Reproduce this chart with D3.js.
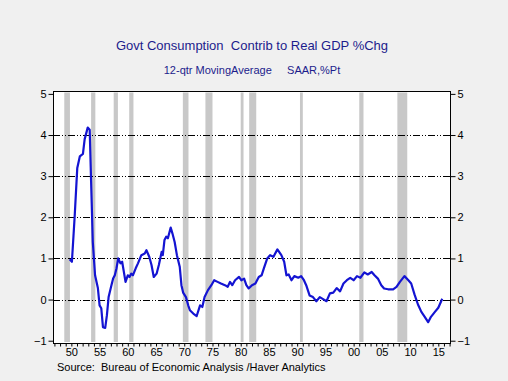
<!DOCTYPE html>
<html>
<head>
<meta charset="utf-8">
<script src="https://cdn.jsdelivr.net/npm/d3@7"></script>
<style>
  body { margin: 0; background: #f0f0f0; }
  svg { display: block; font-family: Arial, "Liberation Sans", sans-serif; }
</style>
</head>
<body>
<svg id="chart"></svg>
<script>
// 12-qtr moving average
const years = [1949.7, 1950.1, 1950.6, 1951.05, 1951.5, 1952.05, 1952.36, 1952.9, 1953.25, 1953.5,
  1953.8, 1954.2, 1954.7, 1955.0, 1955.3, 1955.6, 1956.0, 1956.3, 1956.6, 1957.1,
  1957.4, 1957.7, 1958.0, 1958.3, 1958.7, 1959.0, 1959.6, 1960.0, 1960.3, 1960.6,
  1960.9, 1961.4, 1961.8, 1962.4, 1963.0, 1963.3, 1963.8, 1964.2, 1964.6, 1965.1,
  1965.5, 1966.0, 1966.2, 1966.5, 1966.8, 1967.1, 1967.6, 1967.9, 1968.3, 1968.7,
  1969.2, 1969.5, 1969.8, 1970.3, 1970.7, 1971.0, 1971.6, 1972.2, 1972.8, 1973.2,
  1973.6, 1974.2, 1974.8, 1975.3, 1975.9, 1976.5, 1977.2, 1977.7, 1978.1, 1978.5,
  1979.0, 1979.7, 1980.1, 1980.6, 1981.0, 1981.4, 1982.0, 1982.6, 1983.2, 1983.7,
  1984.1, 1984.7, 1985.2, 1985.8, 1986.5, 1987.2, 1987.7, 1988.1, 1988.5, 1989.0,
  1989.5, 1990.2, 1990.7, 1991.2, 1991.6, 1992.2, 1992.8, 1993.4, 1994.0, 1994.6,
  1995.2, 1995.8, 1996.4, 1997.0, 1997.6, 1998.2, 1998.8, 1999.4, 2000.0, 2000.6,
  2001.2, 2001.9, 2002.5, 2003.2, 2003.7, 2004.3, 2004.9, 2005.4, 2006.1, 2007.0,
  2007.6, 2008.2, 2009.0, 2009.7, 2010.2, 2010.8, 2011.4, 2012.0, 2012.6, 2013.2,
  2013.7, 2014.4, 2015.0, 2015.7];
const values = [0.98, 0.92, 2.05, 3.2, 3.48, 3.54, 3.9, 4.18, 4.13, 2.87,
  1.4, 0.59, 0.28, -0.14, -0.21, -0.67, -0.69, -0.38, 0.06, 0.35,
  0.51, 0.59, 0.76, 1.0, 0.88, 0.92, 0.43, 0.59, 0.55, 0.63,
  0.59, 0.76, 0.88, 1.08, 1.12, 1.2, 1.04, 0.84, 0.55, 0.63,
  0.84, 1.16, 1.08, 1.45, 1.53, 1.49, 1.75, 1.61, 1.4, 1.08,
  0.8, 0.35, 0.17, 0.06, -0.14, -0.26, -0.34, -0.4, -0.14, -0.18,
  0.06, 0.23, 0.35, 0.47, 0.43, 0.39, 0.35, 0.31, 0.43, 0.35,
  0.47, 0.55, 0.47, 0.51, 0.35, 0.27, 0.35, 0.39, 0.55, 0.59,
  0.76, 1.0, 1.08, 1.04, 1.22, 1.08, 0.92, 0.59, 0.61, 0.47,
  0.57, 0.53, 0.57, 0.47, 0.35, 0.1, 0.06, -0.04, 0.06, 0.01,
  -0.04, 0.15, 0.17, 0.28, 0.2, 0.39, 0.47, 0.53, 0.47, 0.57,
  0.53, 0.66, 0.61, 0.67, 0.59, 0.51, 0.35, 0.27, 0.25, 0.25,
  0.31, 0.43, 0.57, 0.47, 0.39, 0.12, -0.12, -0.3, -0.42, -0.55,
  -0.42, -0.3, -0.2, 0.02];

// NBER recessions (start, end)
const recStart = [1948.75, 1953.5, 1957.5, 1960.25, 1969.75, 1973.75, 1980.0, 1981.5, 1990.5, 2001.0, 2007.75];
const recEnd   = [1949.75, 1954.25, 1958.25, 1961.0, 1970.75, 1975.0, 1980.5, 1982.75, 1991.0, 2001.75, 2009.5];

const yTicks = [-1, 0, 1, 2, 3, 4, 5];
const xLabelYears = d3.range(1950, 2016, 5);

const width = 508, height = 381;
const plotLeft = 53, plotRight = 451, plotTop = 91, plotBottom = 344;

const svg = d3.select("#chart")
    .attr("width", width)
    .attr("height", height);

svg.append("rect")
    .attr("width", width)
    .attr("height", height)
    .attr("fill", "#f0f0f0");

const x = d3.scaleLinear()
    .domain([1946.75, 2017.25])
    .range([plotLeft, plotRight]);

const y = d3.scaleLinear()
    .domain([-1.08, 5.07])
    .range([plotBottom, plotTop]);

// plot area
svg.append("rect")
    .attr("x", plotLeft)
    .attr("y", plotTop)
    .attr("width", plotRight - plotLeft)
    .attr("height", plotBottom - plotTop)
    .attr("fill", "#fff");

// recession shading
svg.append("g").selectAll("rect")
    .data(recStart)
  .enter().append("rect")
    .attr("x", function(d) { return x(d); })
    .attr("width", function(d, i) { return x(recEnd[i]) - x(d); })
    .attr("y", plotTop + 1.5)
    .attr("height", plotBottom - plotTop - 3.5)
    .attr("fill", "#c8c8c8");

// gridlines
svg.append("g").selectAll("line")
    .data(yTicks.filter(function(d) { return d > -1 && d < 5; }))
  .enter().append("line")
    .attr("x1", plotLeft)
    .attr("x2", plotRight)
    .attr("y1", function(d) { return Math.round(y(d)) + 0.5; })
    .attr("y2", function(d) { return Math.round(y(d)) + 0.5; })
    .attr("stroke", "#000")
    .attr("stroke-width", 1)
    .attr("stroke-dasharray", "7,2,1,2,1,2");

// line
const line = d3.line()
    .x(function(d, i) { return x(years[i]); })
    .y(function(d) { return y(d); })
    .curve(d3.curveLinear);

svg.append("path")
    .datum(values)
    .attr("d", line)
    .attr("fill", "none")
    .attr("stroke", "#1414d2")
    .attr("stroke-width", 2.2)
    .attr("stroke-linejoin", "round");

// frame
svg.append("rect")
    .attr("x", plotLeft + 0.5)
    .attr("y", plotTop + 0.5)
    .attr("width", plotRight - plotLeft - 1)
    .attr("height", plotBottom - plotTop - 1)
    .attr("fill", "none")
    .attr("stroke", "#000");

// axes
const yLeft = d3.axisLeft(y).tickValues(yTicks).tickSize(5).tickPadding(2).tickFormat(d3.format("d"));
const yRight = d3.axisRight(y).tickValues(yTicks).tickSize(5).tickPadding(2).tickFormat(d3.format("d"));
const xAxis = d3.axisBottom(x)
    .tickValues(d3.range(1947, 2018))
    .tickSize(3)
    .tickPadding(2)
    .tickFormat(function(d) { return xLabelYears.indexOf(d) >= 0 ? d3.format("02d")(d % 100) : ""; });

function styleAxis(g) {
  g.select(".domain").remove();
  g.selectAll("line").attr("stroke", "#000");
  g.selectAll("text").attr("fill", "#000").style("font-size", "11px").style("font-family", "Arial, 'Liberation Sans', sans-serif");
}

svg.append("g")
    .attr("transform", "translate(" + (plotLeft + 0.5) + ",0)")
    .call(yLeft)
    .call(styleAxis);

svg.append("g")
    .attr("transform", "translate(" + (plotRight - 0.5) + ",0)")
    .call(yRight)
    .call(styleAxis);

svg.append("g")
    .attr("transform", "translate(0," + (plotBottom - 0.5) + ")")
    .call(xAxis)
    .call(styleAxis);

// titles
svg.append("text")
    .attr("x", 252)
    .attr("y", 50)
    .attr("text-anchor", "middle")
    .attr("fill", "#1c1c8c")
    .style("font-size", "13px")
    .attr("xml:space", "preserve")
    .text("Govt Consumption  Contrib to Real GDP %Chg");

svg.append("text")
    .attr("x", 252)
    .attr("y", 74)
    .attr("text-anchor", "middle")
    .attr("fill", "#1c1c8c")
    .style("font-size", "11px")
    .attr("xml:space", "preserve")
    .text("12-qtr MovingAverage     SAAR,%Pt");

svg.append("text")
    .attr("x", 57)
    .attr("y", 371)
    .attr("fill", "#000")
    .style("font-size", "11px")
    .attr("xml:space", "preserve")
    .text("Source:  Bureau of Economic Analysis /Haver Analytics");
</script>
</body>
</html>
